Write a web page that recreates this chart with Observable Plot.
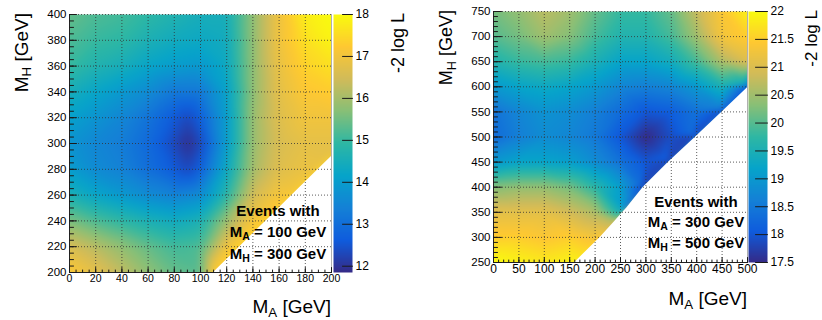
<!DOCTYPE html>
<html><head><meta charset="utf-8">
<script src="https://cdn.jsdelivr.net/npm/d3@7"></script>
<script src="https://cdn.jsdelivr.net/npm/@observablehq/plot@0.6"></script>
<style>
body{margin:0;background:#fff;}
#wrap{position:relative;width:822px;height:320px;overflow:hidden;font-family:"Liberation Sans",Arial,Helvetica,sans-serif;color:#000;}
#wrap svg{position:absolute;top:0;}
.t{position:absolute;white-space:nowrap;line-height:1;}
.rot{transform-origin:0 0;transform:rotate(-90deg) translate(-100%,-50%);}
.ann{position:absolute;white-space:nowrap;line-height:1;font-weight:bold;font-size:15px;transform:translateX(-50%);}
sub{font-size:0.7em;vertical-align:-0.3em;line-height:0;}
</style>
</head><body>
<div id="wrap"></div>
<script>
// ---------- Left panel data (M_A 0..200, M_H 200..400) ----------
const leftMA = [0, 20, 40, 60, 80, 100, 120, 140, 160, 180, 200];
const leftMH = [400, 380, 360, 340, 320, 300, 280, 260, 240, 220, 200];
const leftZ = [
  [15.4, 15.2, 15.1, 14.9, 14.7, 14.5, 14.5, 15.8, 17.0, 17.8, 18.0],
  [15.2, 15.0, 14.9, 14.6, 14.4, 14.3, 14.4, 15.8, 17.0, 17.6, 17.9],
  [15.0, 14.7, 14.5, 14.2, 14.0, 13.9, 14.3, 15.8, 16.9, 17.4, 17.6],
  [14.5, 14.2, 13.9, 13.6, 13.2, 13.2, 14.1, 15.8, 16.8, 17.2, 17.3],
  [14.1, 13.8, 13.5, 13.1, 12.6, 12.7, 14.0, 15.9, 16.7, 17.0, 17.0],
  [13.8, 13.5, 13.3, 12.9, 12.3, 12.3, 14.0, 15.9, 16.6, 16.8, 16.8],
  [14.0, 13.6, 13.4, 13.0, 12.6, 12.7, 14.3, 16.0, 16.7, 16.9, null],
  [14.6, 14.2, 13.9, 13.6, 13.4, 13.6, 14.8, 16.5, 17.1, null, null],
  [15.6, 15.2, 14.9, 14.6, 14.4, 14.6, 15.9, 17.1, null, null, null],
  [16.6, 16.2, 15.8, 15.4, 15.1, 15.2, 17.0, null, null, null, null],
  [17.2, 16.8, 16.3, 15.8, 15.4, 15.3, null, null, null, null, null]
];
const leftExtraMA = [90, 90, 90];
const leftExtraMH = [300, 320, 280];
const leftExtraZ = [11.9, 12.3, 12.3];
const leftEdgeMA = [110, 130, 150, 170, 190, 200];
const leftEdgeMH = [200, 220, 240, 260, 280, 290];
const leftEdgeZ = [17.3, 17.4, 17.3, 17.1, 16.9, 16.8];
const leftZTicks = [12, 13, 14, 15, 16, 17, 18];

// ---------- Right panel data (M_A 0..500, M_H 250..750) ----------
const rightMA = [0, 50, 100, 150, 200, 250, 300, 350, 400, 450, 500];
const rightMH = [750, 700, 650, 600, 550, 500, 450, 400, 350, 300, 250];
const rightZ = [
  [20.2, 20.4, 20.7, 20.5, 20.1, 19.8, 19.8, 20.1, 20.8, 21.4, 21.9],
  [20.0, 20.2, 20.5, 20.3, 19.9, 19.6, 19.6, 19.9, 20.5, 21.3, 21.5],
  [19.6, 19.8, 19.9, 19.8, 19.5, 19.2, 19.2, 19.4, 19.9, 20.6, 21.0],
  [19.0, 19.2, 19.3, 19.2, 19.0, 18.7, 18.6, 18.7, 19.0, 19.5, null],
  [18.4, 18.7, 18.9, 18.8, 18.6, 18.3, 18.0, 18.1, 18.4, null, null],
  [18.3, 18.6, 18.8, 18.7, 18.5, 18.0, 17.5, 17.9, null, null, null],
  [19.0, 19.2, 19.2, 19.1, 18.8, 18.4, 18.0, null, null, null, null],
  [20.3, 20.4, 20.4, 20.2, 19.7, 19.1, null, null, null, null, null],
  [21.1, 21.1, 21.1, 20.9, 20.6, null, null, null, null, null, null],
  [21.5, 21.5, 21.4, 21.5, 21.3, null, null, null, null, null, null],
  [22.0, 21.9, 21.8, 21.9, null, null, null, null, null, null, null]
];
const rightExtraMA = [257, 290, 340, 393, 445, 494];
const rightExtraMH = [365, 407, 457, 507, 557, 606];
const rightExtraZ = [19.0, 18.3, 18.1, 18.3, 18.6, 19.4];
const rightEdgeMA = [160, 210, 240, 252, 262, 295, 345, 398, 450, 500];
const rightEdgeMH = [250, 300, 333, 347, 358, 400, 450, 500, 550, 598];
const rightEdgeZ = [21.9, 21.4, 20.6, 19.5, 18.0, 17.8, 17.8, 17.8, 17.9, 18.0];
const rightZTicks = [17.5, 18, 18.5, 19, 19.5, 20, 20.5, 21, 21.5, 22];

// ROOT kBird palette
const birdColors = ["#352a87","#0f5cdd","#1481d6","#06a4ca","#2eb7a4","#87bf77","#d1bb59","#fec832","#f9fb0e"];
const birdInterp = d3.piecewise(d3.interpolateRgb, birdColors);
const FONT = '"Liberation Sans", Arial, Helvetica, sans-serif';
const lineShape = {draw(context, l) { context.moveTo(0, 0); context.lineTo(0, -l); }};

function buildPoints(ma, mh, rows, exMA, exMH, exZ, edMA, edMH, edZ) {
  const pts = [];
  mh.forEach((y, i) => ma.forEach((x, j) => { const v = rows[i][j]; if (v != null) pts.push({ma: x, mh: y, z: v}); }));
  exMA.forEach((x, i) => pts.push({ma: x, mh: exMH[i], z: exZ[i]}));
  edMA.forEach((x, i) => pts.push({ma: x, mh: edMH[i], z: edZ[i]}));
  return pts;
}
function buildEdge(edMA, edMH) { return edMA.map((x, i) => ({ma: x, mh: edMH[i]})); }
const vec = (data, o) => Plot.vector(data, {anchor: "start", shape: lineShape, stroke: "#1a1a1a", strokeWidth: 1, ...o});

function mainPlot(c) {
  return Plot.plot({
    width: c.width, height: 300,
    marginLeft: c.ml, marginRight: c.mr, marginTop: c.mt, marginBottom: c.mb,
    style: {fontFamily: FONT, background: "transparent", color: "#000", overflow: "visible"},
    x: {domain: c.xDomain, axis: null},
    y: {domain: c.yDomain, axis: null},
    color: {type: "linear", domain: c.zDomain, interpolate: birdInterp, clamp: true},
    marks: [
      Plot.raster(c.points, {x: "ma", y: "mh", fill: "z", interpolate: "barycentric", blur: c.blur,
        x1: c.xDomain[0], x2: c.xDomain[1], y1: c.yDomain[0], y2: c.yDomain[1]}),
      Plot.areaY(c.edge, {x: "ma", y1: c.yDomain[0], y2: "mh", fill: "white"}),
      Plot.gridX(c.xTicks, {stroke: "#333", strokeOpacity: 0.8, strokeDasharray: "1,2"}),
      Plot.gridY(c.yTicks, {stroke: "#333", strokeOpacity: 0.8, strokeDasharray: "1,2"}),
      Plot.ruleX([c.xDomain[1]], {stroke: "#b0b0b0"}),
      Plot.ruleX([c.xDomain[0]], {stroke: "#222"}),
      Plot.ruleY([c.yDomain[0]], {stroke: "#222"}),
      vec(c.xTicks, {x: d => d, frameAnchor: "bottom", rotate: 0, length: c.xMajLen}),
      vec(c.xMinor, {x: d => d, frameAnchor: "bottom", rotate: 0, length: c.xMinLen}),
      vec(c.yTicks, {y: d => d, frameAnchor: "left", rotate: 90, length: c.yMajLen}),
      vec(c.yMinor, {y: d => d, frameAnchor: "left", rotate: 90, length: c.yMinLen}),
      Plot.axisX(c.xTicks, {anchor: "bottom", label: null, tickSize: 0, tickPadding: c.xPad, fontSize: c.xFont, tickFormat: d => String(d)}),
      Plot.axisY(c.yTicks, {anchor: "left", label: null, tickSize: 0, tickPadding: 3, fontSize: c.yFont, tickFormat: d => String(d)})
    ]
  });
}

function colorBar(c) {
  return Plot.plot({
    width: c.width, height: 300,
    marginLeft: 0, marginRight: c.width - c.barW, marginTop: c.mt, marginBottom: c.mb,
    style: {fontFamily: FONT, background: "transparent", color: "#000", overflow: "visible"},
    x: {domain: [0, 1], axis: null},
    y: {domain: c.zDomain, axis: null},
    color: {type: "linear", domain: c.zDomain, interpolate: birdInterp, clamp: true},
    marks: [
      Plot.raster({fill: (x, y) => y, x1: 0, x2: 1, y1: c.zDomain[0], y2: c.zDomain[1]}),
      vec(c.ticks, {y: d => d, frameAnchor: "right", rotate: -90, length: c.tickLen}),
      Plot.axisY(c.ticks, {anchor: "right", label: null, tickSize: 0, tickPadding: 3, fontSize: 12, tickFormat: d => String(d)})
    ]
  });
}

const wrap = document.getElementById("wrap");
function place(svg, left) { svg.style.left = left + "px"; wrap.appendChild(svg); }

// Left panel
place(mainPlot({
  width: 333, ml: 69, mr: 2, mt: 14, mb: 28, blur: 4,
  xDomain: [0, 200], yDomain: [200, 400], zDomain: [11.85, 18],
  points: buildPoints(leftMA, leftMH, leftZ, leftExtraMA, leftExtraMH, leftExtraZ, leftEdgeMA, leftEdgeMH, leftEdgeZ),
  edge: buildEdge(leftEdgeMA, leftEdgeMH),
  xTicks: d3.range(0, 201, 20), yTicks: d3.range(200, 401, 20),
  xMinor: d3.range(0, 201, 5), yMinor: d3.range(200, 401, 5),
  xMajLen: 5, xMinLen: 2.5, yMajLen: 7, yMinLen: 4,
  xPad: 2, xFont: 10.5, yFont: 11.5
}), 0);
place(colorBar({width: 60, barW: 19, mt: 14, mb: 28, zDomain: [11.85, 18], ticks: leftZTicks, tickLen: 10}), 333);

// Right panel
place(mainPlot({
  width: 337, ml: 83, mr: 0, mt: 11, mb: 38, blur: 2,
  xDomain: [0, 500], yDomain: [250, 750], zDomain: [17.5, 22],
  points: buildPoints(rightMA, rightMH, rightZ, rightExtraMA, rightExtraMH, rightExtraZ, rightEdgeMA, rightEdgeMH, rightEdgeZ),
  edge: buildEdge(rightEdgeMA, rightEdgeMH),
  xTicks: d3.range(0, 501, 50), yTicks: d3.range(250, 751, 50),
  xMinor: d3.range(0, 501, 10), yMinor: d3.range(250, 751, 10),
  xMajLen: 5, xMinLen: 2.5, yMajLen: 8, yMinLen: 4,
  xPad: 2, xFont: 12, yFont: 11.5
}), 410);
place(colorBar({width: 74, barW: 19, mt: 11, mb: 38, zDomain: [17.5, 22], ticks: rightZTicks, tickLen: 12}), 748);

// Titles and annotations
const html = `
<div class="t rot" style="left:21px;top:13px;font-size:19px;">M<sub>H</sub> [GeV]</div>
<div class="t" style="right:491px;top:297px;font-size:19px;">M<sub>A</sub> [GeV]</div>
<div class="t rot" style="left:398px;top:13px;font-size:18px;">-2 log L</div>
<div class="ann" style="left:278px;top:203px;">Events with</div>
<div class="ann" style="left:278px;top:224px;">M<sub>A</sub> = 100 GeV</div>
<div class="ann" style="left:278px;top:246px;">M<sub>H</sub> = 300 GeV</div>

<div class="t rot" style="left:446px;top:10px;font-size:18px;">M<sub>H</sub> [GeV]</div>
<div class="t" style="right:75px;top:289px;font-size:19px;">M<sub>A</sub> [GeV]</div>
<div class="t rot" style="left:811px;top:10px;font-size:17px;">-2 log L</div>
<div class="ann" style="left:696px;top:194px;">Events with</div>
<div class="ann" style="left:696px;top:214px;">M<sub>A</sub> = 300 GeV</div>
<div class="ann" style="left:696px;top:235px;">M<sub>H</sub> = 500 GeV</div>
`;
wrap.insertAdjacentHTML("beforeend", html);
</script>
</body></html>
